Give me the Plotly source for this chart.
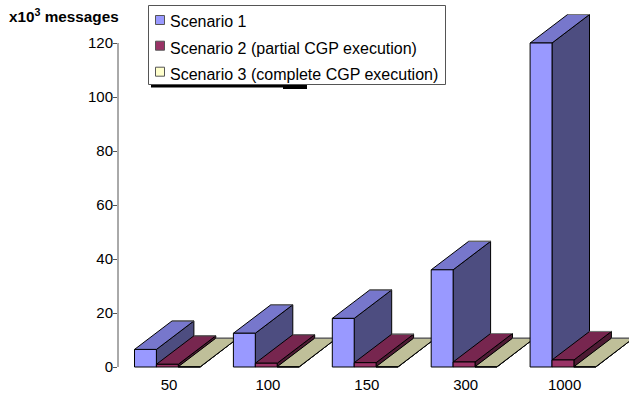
import plotly.graph_objects as go

categories = ["50", "100", "150", "300", "1000"]
series_names = ["Scenario 1", "Scenario 2 (partial CGP execution)", "Scenario 3 (complete CGP execution)"]
scenario_1 = [6.5, 12.5, 18, 36, 120]
scenario_2 = [1, 1.4, 1.6, 1.85, 2.6]
scenario_3 = [0.1, 0.1, 0.1, 0.1, 0.1]
y_ticks = [0, 20, 40, 60, 80, 100, 120]

series_values = [scenario_1, scenario_2, scenario_3]
front_colors = ["#9999FF", "#993366", "#FFFFCC"]
top_colors = ["#7777CC", "#77264F", "#BFBF99"]
side_colors = ["#4D4D80", "#4D1A33", "#808066"]

W, H = 629, 394
ML, MB = 118, 23
PX_PER_GROUP = 98.9
PX_PER_UNIT = 2.7
ZERO_PX = 367
TICK0_PX = 169

BAR_W = 21.9 / PX_PER_GROUP
GROUP_START = -34.5 / PX_PER_GROUP
DEPTH_X = 37.5 / PX_PER_GROUP
DEPTH_Y = 28.5 / PX_PER_UNIT

x_range = [(ML - TICK0_PX) / PX_PER_GROUP, (W - TICK0_PX) / PX_PER_GROUP]
y_range = [-(H - MB - ZERO_PX) / PX_PER_UNIT, ZERO_PX / PX_PER_UNIT]

fig = go.Figure()


def poly(points, color, name):
    xs, ys = zip(*points)
    fig.add_trace(go.Scatter(
        x=list(xs) + [xs[0]], y=list(ys) + [ys[0]], mode="lines", fill="toself",
        fillcolor=color, line=dict(color="#000000", width=1), hoverinfo="skip",
        showlegend=False, name=name))


for g, _ in enumerate(categories):
    for s, values in enumerate(series_values):
        v = values[g]
        x0 = g + GROUP_START + s * BAR_W
        x1 = x0 + BAR_W
        n = series_names[s]
        poly([(x1, 0), (x1 + DEPTH_X, DEPTH_Y), (x1 + DEPTH_X, v + DEPTH_Y), (x1, v)], side_colors[s], n)
        poly([(x0, v), (x1, v), (x1 + DEPTH_X, v + DEPTH_Y), (x0 + DEPTH_X, v + DEPTH_Y)], top_colors[s], n)
        poly([(x0, 0), (x1, 0), (x1, v), (x0, v)], front_colors[s], n)
        fig.add_trace(go.Scatter(
            x=[x0 + DEPTH_X, x1 + DEPTH_X], y=[v + DEPTH_Y, v + DEPTH_Y], mode="lines",
            line=dict(color="#777777", width=1), hoverinfo="skip", showlegend=False))


def px_x(p):
    return (p - ML) / (W - ML)


def px_y(p):
    return 1 - p / (H - MB)


shapes = [
    dict(type="line", xref="paper", yref="y", x0=0, x1=0, y0=0, y1=120, line=dict(color="#555555", width=1)),
    dict(type="rect", xref="paper", yref="paper", x0=px_x(151), x1=px_x(307), y0=px_y(87.5), y1=px_y(84),
         fillcolor="#000000", line=dict(width=0)),
    dict(type="rect", xref="paper", yref="paper", x0=px_x(283), x1=px_x(307), y0=px_y(89), y1=px_y(87),
         fillcolor="#000000", line=dict(width=0)),
    dict(type="rect", xref="paper", yref="paper", x0=px_x(148.5), x1=px_x(445.5), y0=px_y(84.5), y1=px_y(5.5),
         fillcolor="#FFFFFF", line=dict(color="#555555", width=1)),
]
annotations = [dict(text="<b>x10<sup>3</sup> messages</b>", xref="paper", yref="paper", x=px_x(7), y=px_y(16),
                    xanchor="left", yanchor="middle", showarrow=False,
                    font=dict(family="Liberation Sans", size=15.3, color="#000000"))]
marker_cy = [20, 45.7, 71.7]
text_cy = [21.5, 48.5, 74]
for i, name in enumerate(series_names):
    shapes.append(dict(type="rect", xref="paper", yref="paper", x0=px_x(155.5), x1=px_x(164.5),
                       y0=px_y(marker_cy[i] + 4.5), y1=px_y(marker_cy[i] - 4.5),
                       fillcolor=front_colors[i], line=dict(color="#555555", width=1)))
    annotations.append(dict(text=name, xref="paper", yref="paper", x=px_x(168), y=px_y(text_cy[i]), xanchor="left",
                            yanchor="middle", showarrow=False,
                            font=dict(family="Liberation Sans", size=16, color="#000000")))

fig.update_layout(
    width=W, height=H, margin=dict(l=ML, r=0, t=0, b=MB), showlegend=False,
    plot_bgcolor="#FFFFFF", paper_bgcolor="#FFFFFF",
    font=dict(family="Liberation Sans", size=15, color="#000000"),
    xaxis=dict(range=x_range, tickmode="array", tickvals=list(range(len(categories))), ticktext=categories,
               showgrid=False, zeroline=False, showline=False, ticks="", fixedrange=True, ticklabelstandoff=3),
    yaxis=dict(range=y_range, tickmode="array", tickvals=y_ticks, showgrid=False, zeroline=False, showline=False,
               ticks="outside", ticklen=4, tickcolor="#555555", tickwidth=1, fixedrange=True, ticklabelstandoff=-3),
    shapes=shapes, annotations=annotations,
)
fig.write_html("out.html", config={"displayModeBar": False},
               post_script="document.body.style.margin='0';document.body.style.overflow='hidden';")
